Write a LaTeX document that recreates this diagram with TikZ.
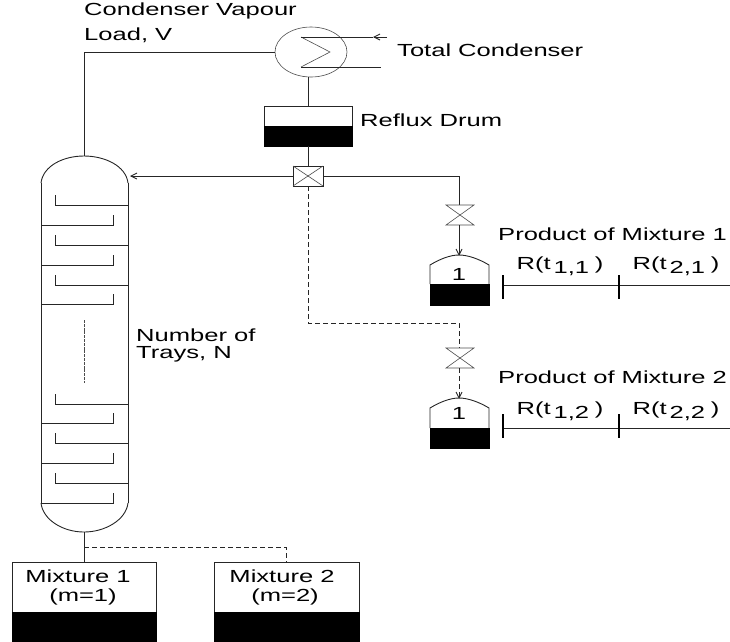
\documentclass[tikz,border=0pt]{standalone}
\usepackage{fontspec}
\setmainfont[FakeStretch=1.46]{Liberation Sans}
\usetikzlibrary{arrows.meta,shapes.geometric}
\tikzset{
  line/.style={line width=0.9pt,black!85},
  thin line/.style={line width=0.6pt,black!70},
  dash line/.style={line width=0.9pt,black!85,dash pattern=on 5pt off 3pt},
  arr/.style={-{Straight Barb[length=6pt,width=6pt]}},
  lbl/.style={inner sep=0pt,font=\fontsize{17.5}{20}\selectfont},
  fill black/.style={fill=black,draw=black,line width=0.6pt},
}
\newcommand{\Rt}[1]{R(t\raisebox{-4pt}{\,#1}\,\,)}
\begin{document}
\begin{tikzpicture}[x=1pt,y=-1pt]
  \useasboundingbox (0,0) rectangle (730,641);
  % condenser
  \node[ellipse,draw,thin line,minimum width=72pt,minimum height=50pt,inner sep=0pt] (cond) at (311,52) {};
  \coordinate (ZA) at (301,37);
  \coordinate (ZB) at (330,52);
  \coordinate (ZC) at (301,67);
  \coordinate (CI) at (387,37);
  \coordinate (CM) at (373,37);
  \coordinate (CO) at (381,67);
  \coordinate (CT) at (308,77);
  \coordinate (CL) at (275,52);
  \draw[thin line] (ZA)--(ZB)--(ZC);
  \draw[line] (ZA)--(CM);
  \draw[line,arr] (CI)--(CM);
  \draw[line] (ZC)--(CO);
  % reflux drum
  \coordinate (DA) at (264,106);
  \coordinate (DB) at (352,146);
  \coordinate (DC) at (264,126);
  \coordinate (DT) at (308,106);
  \coordinate (DD) at (308,146);
  \draw[line] (DA) rectangle (DB);
  \fill[fill black] (DC) rectangle (DB);
  \draw[line] (CT)--(DT);
  % splitter
  \coordinate (SA) at (293,166);
  \coordinate (SB) at (323,186);
  \coordinate (SC) at (293,186);
  \coordinate (SD) at (323,166);
  \coordinate (ST) at (308,166);
  \coordinate (SL) at (293,176);
  \coordinate (SR) at (323,176);
  \coordinate (SU) at (308,186);
  \draw[line] (SA) rectangle (SB);
  \draw[thin line] (SA)--(SB);
  \draw[thin line] (SC)--(SD);
  \draw[line] (DD)--(ST);
  % column
  \coordinate (TL) at (41,183);
  \coordinate (TR) at (128,183);
  \coordinate (BL) at (41,503);
  \coordinate (BR) at (128,503);
  \coordinate (TT) at (84,156);
  \coordinate (BB) at (84,532);
  \coordinate (TF) at (130,176);
  \coordinate (TK) at (84,52);
  \draw[line] (TL)--(BL);
  \draw[line] (TR)--(BR);
  \draw[line] (TL) .. controls (43,166) and (63,156) .. (TT) .. controls (105,156) and (126,166) .. (TR);
  \draw[line] (BL) .. controls (43,520) and (63,532) .. (BB) .. controls (105,532) and (126,520) .. (BR);
  \foreach \y in {205,245,285,404,443,483}
    \draw[line] (128,\y)--(55,\y)--(55,\y-10);
  \foreach \y in {225,265,304,423,463,503}
    \draw[line] (41,\y)--(113,\y)--(113,\y-10);
  \draw[thin line,dash pattern=on 3pt off 0.8pt] (84,320)--(84,383);
  \draw[line] (TT)--(TK)--(CL);
  \draw[line,arr] (SL)--(TF);
  % product 1
  \coordinate (VA) at (459,176);
  \coordinate (VT) at (459,205);
  \coordinate (VB) at (459,225);
  \coordinate (PT) at (459,256);
  \draw[line] (SR)--(VA)--(VT);
  \draw[thin line] (446,205)--(474,205)--(446,225)--(474,225)--cycle;
  \draw[line,arr] (VB)--(PT);
  \draw[line] (430,284)--(430,265) .. controls (440,259) and (450,255) .. (459,255) .. controls (468,255) and (479,259) .. (489,265)--(489,284);
  \fill[fill black] (430,284) rectangle (489,305);
  \node[lbl] (one1) at (459,274) {1};
  \node[lbl,anchor=west] (prod1) at (498,234) {Product of Mixture 1};
  \coordinate (LA) at (503,285);
  \coordinate (LB) at (619,285);
  \coordinate (LC) at (730,285);
  \draw[line] (LA)--(LC);
  \draw[line,line width=1.3pt,black] (503,275)--(503,299);
  \draw[line,line width=1.3pt,black] (619,275)--(619,299);
  \node[lbl] (r11) at (560,266) {\Rt{1,1}};
  \node[lbl] (r21) at (676,266) {\Rt{2,1}};
  % product 2
  \coordinate (WA) at (308,323);
  \coordinate (WB) at (459,323);
  \coordinate (WT) at (459,348);
  \coordinate (WU) at (459,368);
  \coordinate (QT) at (459,399);
  \draw[dash line] (SU)--(WA)--(WB)--(WT);
  \draw[thin line] (446,348)--(474,348)--(446,368)--(474,368)--cycle;
  \draw[dash line,arr] (WU)--(QT);
  \draw[line] (430,428)--(430,408) .. controls (440,402) and (450,398) .. (459,398) .. controls (468,398) and (479,402) .. (489,408)--(489,428);
  \fill[fill black] (430,428) rectangle (489,448);
  \node[lbl] (one2) at (459,413) {1};
  \node[lbl,anchor=west] (prod2) at (498,377) {Product of Mixture 2};
  \coordinate (MA) at (503,428);
  \coordinate (MB) at (619,428);
  \coordinate (MC) at (730,428);
  \draw[line] (MA)--(MC);
  \draw[line,line width=1.3pt,black] (503,414)--(503,438);
  \draw[line,line width=1.3pt,black] (619,414)--(619,438);
  \node[lbl] (r12) at (560,411) {\Rt{1,2}};
  \node[lbl] (r22) at (676,411) {\Rt{2,2}};
  % feed tanks
  \coordinate (FA) at (84,562);
  \coordinate (FB) at (84,547);
  \coordinate (FC) at (286,547);
  \coordinate (FD) at (286,562);
  \draw[line] (BB)--(FA);
  \draw[dash line] (FB)--(FC)--(FD);
  \draw[line] (12,641)--(12,562)--(156,562)--(156,641);
  \fill[fill black] (12,612) rectangle (156,641);
  \draw[line] (214,641)--(214,562)--(359,562)--(359,641);
  \fill[fill black] (214,612) rectangle (359,641);
  \node[lbl] (mixa) at (78,576) {Mixture 1};
  \node[lbl] (mixam) at (83,597) {(m=1)};
  \node[lbl] (mixb) at (282,576) {Mixture 2};
  \node[lbl] (mixbm) at (285,597) {(m=2)};
  % labels
  \node[lbl,anchor=west] (vap) at (84,11) {Condenser Vapour};
  \node[lbl,anchor=west] (load) at (84,35) {Load, V};
  \node[lbl,anchor=west] (total) at (397,50) {Total Condenser};
  \node[lbl,anchor=west] (reflux) at (360,120) {Reflux Drum};
  \node[lbl,anchor=west] (num) at (136,335) {Number of};
  \node[lbl,anchor=west] (trays) at (136,354) {Trays, N};
\end{tikzpicture}
\end{document}
